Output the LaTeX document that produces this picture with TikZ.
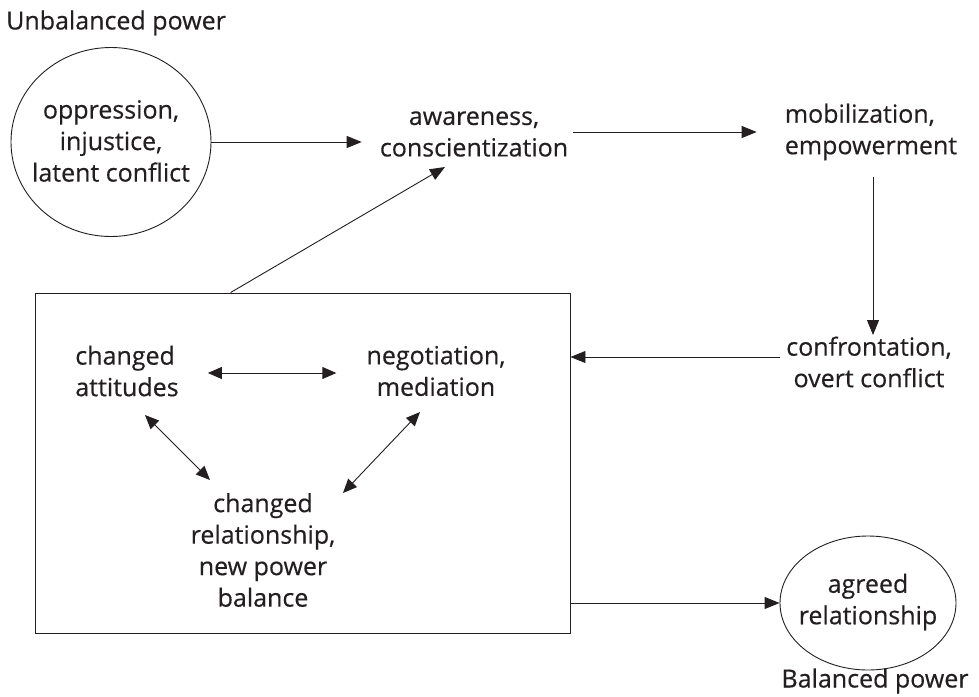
\documentclass[tikz,border=0pt]{standalone}
\usepackage{fontspec}
\setmainfont{Open Sans}[FakeBold=0.4]
\usetikzlibrary{arrows.meta,shapes.geometric}
\definecolor{ink}{HTML}{231F20}
\begin{document}
\begin{tikzpicture}[x=1pt,y=-1pt,
  txt/.style={inner sep=0pt,align=center,text=ink,font=\fontsize{25}{31.5}\selectfont},
  txtl/.style={txt,align=left},
  circ/.style={ellipse,draw=ink,line width=0.9pt,inner sep=0pt},
  arr/.style={-{Triangle[length=15pt,width=12pt]},draw=ink,line width=0.9pt},
  darr/.style={{Triangle[length=14pt,width=12pt]}-{Triangle[length=14pt,width=12pt]},draw=ink,line width=0.9pt}]
\useasboundingbox (0,0) rectangle (979,696);
\node[txt,anchor=west] (ubp) at (6,23) {Unbalanced power};
\node[circ,minimum width=200pt,minimum height=189pt] (c1) at (111,142) {};
\node[txt] (c1t) at (111,141) {oppression,\\injustice,\\latent conflict};
\node[txt] (aw) at (474,134) {awareness,\\conscientization};
\node[txtl] (mob) at (871,132) {mobilization,\\empowerment};
\node[txt] (conf) at (869,362) {confrontation,\\overt conflict};
\node[draw=ink,line width=0.9pt,minimum width=535pt,minimum height=340pt,inner sep=0pt] (box) at (302.5,463) {};
\node[txtl] (ca) at (127,371) {changed\\attitudes};
\node[txt] (neg) at (436,371) {negotiation,\\mediation};
\node[txt] (rel) at (263,550) {changed\\relationship,\\new power\\balance};
\node[circ,minimum width=176pt,minimum height=134pt] (c2) at (868,603) {};
\node[txt] (c2t) at (868,602) {agreed\\relationship};
\node[txt] (bp) at (875,681) {Balanced power};
\coordinate (cw) at ([shift={(-6,-5)}]conf.west);

\draw[arr] (c1.east) -- ([xshift=-18pt]aw.west |- c1.east);
\draw[arr] ([xshift=5pt]aw.east |- mob.west) -- ([xshift=-28pt]mob.west);
\draw[arr] ([shift={(2,45)}]mob.center) -- ([shift={(4,-27)}]conf.center);
\draw[arr] (cw) -- (box.east |- cw);
\draw[arr] ([xshift=196pt]box.north west) -- ([shift={(-29,33)}]aw.center);
\draw[darr] ([shift={(29,2)}]ca.east) -- ([shift={(-30,2)}]neg.west);
\draw[darr] ([shift={(18,44)}]ca.center) -- ([shift={(-53,-70)}]rel.center);
\draw[darr] ([shift={(-16,41)}]neg.center) -- ([shift={(80,-57)}]rel.center);
\draw[arr] (box.east |- c2.west) -- (c2.west);
\end{tikzpicture}
\end{document}
